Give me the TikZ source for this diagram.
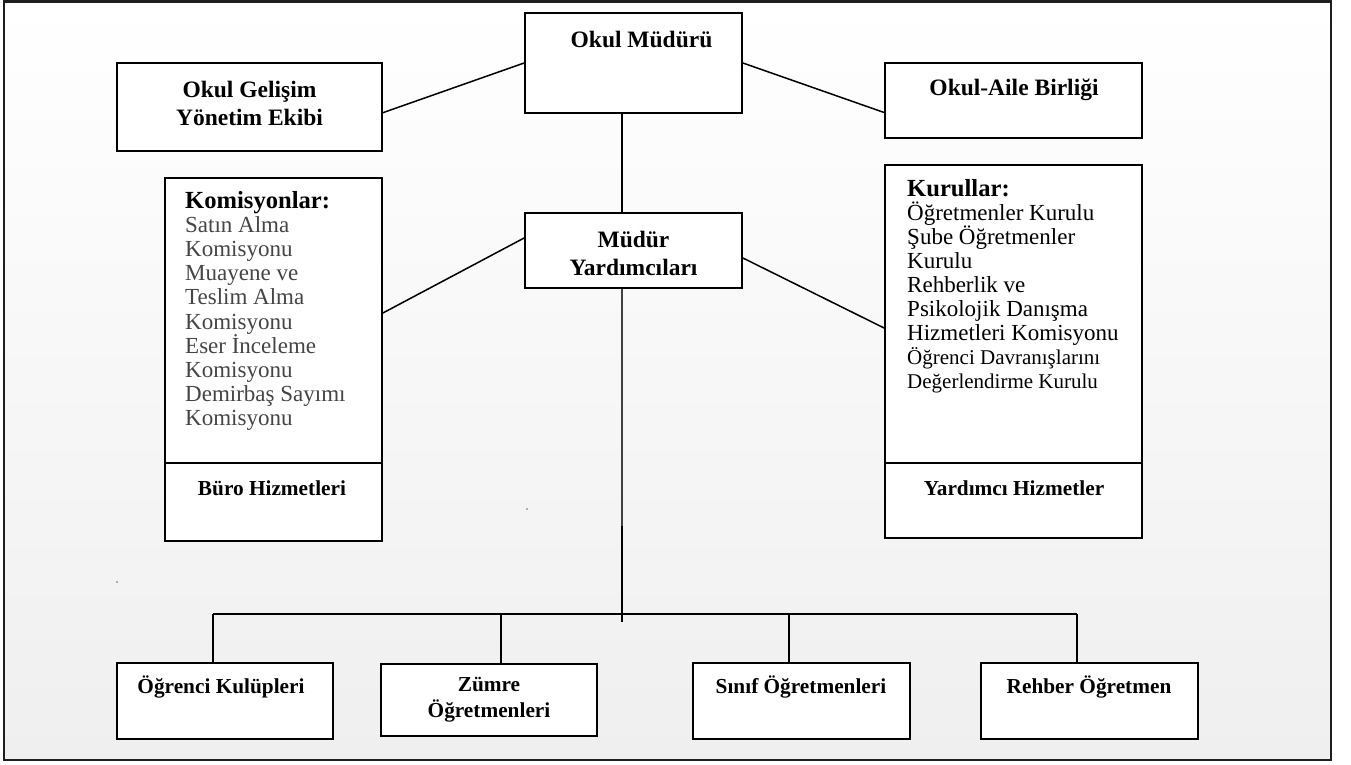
\documentclass[tikz,border=0pt]{standalone}
\usepackage{fontspec}
\setmainfont{Liberation Serif}
\definecolor{bgbot}{HTML}{EFEFEF}
\definecolor{framecol}{HTML}{1E1E1E}
\definecolor{komgray}{HTML}{454545}
\begin{document}
\begin{tikzpicture}[x=1pt,y=-1pt,
  box/.style n args={2}{draw=black,line width=1.8pt,fill=white,inner sep=0pt,minimum width=#1,minimum height=#2},
  conn/.style={draw=black,line width=1.5pt},
  tb/.style={inner sep=0pt,font=\fontsize{23.5}{28}\selectfont\bfseries,align=center},
  tbs/.style={inner sep=0pt,font=\fontsize{21.3}{26}\selectfont\bfseries,align=center},
  hd/.style={inner sep=0pt,font=\fontsize{24.6}{29}\selectfont\bfseries,anchor=base west},
  lst/.style={inner sep=0pt,font=\fontsize{23}{27}\selectfont,anchor=base west},
  lsts/.style={inner sep=0pt,font=\fontsize{21}{25}\selectfont,anchor=base west}]
\useasboundingbox (0,0) rectangle (1351,765);
\fill[white] (0,0) rectangle (1351,765);
\shade[top color=white,bottom color=bgbot] (4,1.5) rectangle (1331,760);
\draw[draw=framecol,line width=2.5pt] (4,1.5) rectangle (1331,760);

% boxes
\node[box={217pt}{100pt}] (mud) at (633.5,63) {};
\node[box={265pt}{88pt}] (gel) at (249.5,107) {};
\node[box={257pt}{75pt}] (aile) at (1013.5,100.5) {};
\node[box={217pt}{75pt}] (yard) at (633.5,250.5) {};
\node[box={217pt}{285pt}] (kom) at (273.5,320.5) {};
\node[box={217pt}{78pt}] (buro) at (273.5,502) {};
\node[box={257pt}{298pt}] (kur) at (1013.5,314) {};
\node[box={257pt}{75pt}] (yh) at (1013.5,500.5) {};
\node[box={216pt}{76pt}] (ogr) at (225,701) {};
\node[box={216pt}{72pt}] (zum) at (489,700) {};
\node[box={217pt}{76pt}] (sin) at (801.5,701) {};
\node[box={217pt}{76pt}] (reh) at (1089.5,701) {};

% texts
\node[tb] (tmud) at (641.5,39) {Okul Müdürü};
\node[tb] (tgel) at (249.5,103) {Okul Gelişim\\Yönetim Ekibi};
\node[tb] (taile) at (1014,90) {Okul-Aile Birliği};
\node[tb] (tyard) at (633.5,253) {Müdür\\Yardımcıları};
\node[tbs] (tburo) at (272,488) {Büro Hizmetleri};
\node[tbs] (tyh) at (1014,488) {Yardımcı Hizmetler};
\node[tbs] (togr) at (221,687) {Öğrenci Kulüpleri};
\node[tbs] (tzum) at (489,700) {Zümre\\Öğretmenleri};
\node[tbs] (tsin) at (801,687) {Sınıf Öğretmenleri};
\node[tbs] (treh) at (1089,687) {Rehber Öğretmen};

\node[hd] (komh) at (185,208) {Komisyonlar:};
\foreach \t [count=\i] in {Satın Alma,Komisyonu,Muayene ve,Teslim Alma,Komisyonu,Eser İnceleme,Komisyonu,Demirbaş Sayımı,Komisyonu}
  \node[lst,text=komgray] (kl\i) at (185,208+24.2*\i) {\t};

\node[hd] (kurh) at (907,196) {Kurullar:};
\foreach \t [count=\i] in {Öğretmenler Kurulu,Şube Öğretmenler,Kurulu,Rehberlik ve,Psikolojik Danışma,Hizmetleri Komisyonu}
  \node[lst] (ku\i) at (907,196+24.1*\i) {\t};
\node[lsts] (ku7) at (907,196+24.1*7) {Öğrenci Davranışlarını};
\node[lsts] (ku8) at (907,196+24.1*8) {Değerlendirme Kurulu};

% connectors
\draw[conn] ([yshift=-5.7pt]gel.east) -- (mud.west);
\draw[conn] (mud.east) -- ([yshift=-12pt]aile.west);
\draw[conn] ([xshift=-11.5pt]mud.south) -- ([xshift=-11.5pt]yard.north);
\draw[conn] ([yshift=7.5pt]kom.east) -- ([yshift=12.5pt]yard.west);
\draw[conn] ([yshift=-7.5pt]yard.east) -- ([yshift=-14pt]kur.west);
\coordinate (vmid) at (622,526);
\coordinate (stem) at (622,622);
\draw[conn,draw=black!75] ([xshift=-11.5pt]yard.south) -- (vmid);
\draw[conn] (vmid) -- (stem);
\coordinate (b1) at (213,614);
\coordinate (b2) at (501,614);
\coordinate (b3) at (789,614);
\coordinate (b4) at (1077,614);
\draw[conn,line width=1.8pt] (b1) -- (b4);
\draw[conn] (b1) -- (b1 |- ogr.north);
\draw[conn] (b2) -- (b2 |- zum.north);
\draw[conn] (b3) -- (b3 |- sin.north);
\draw[conn] (b4) -- (b4 |- reh.north);

% specks
\fill[black!60] (527,509) circle (0.8);
\fill[black!60] (117,582) circle (0.8);
\end{tikzpicture}
\end{document}
